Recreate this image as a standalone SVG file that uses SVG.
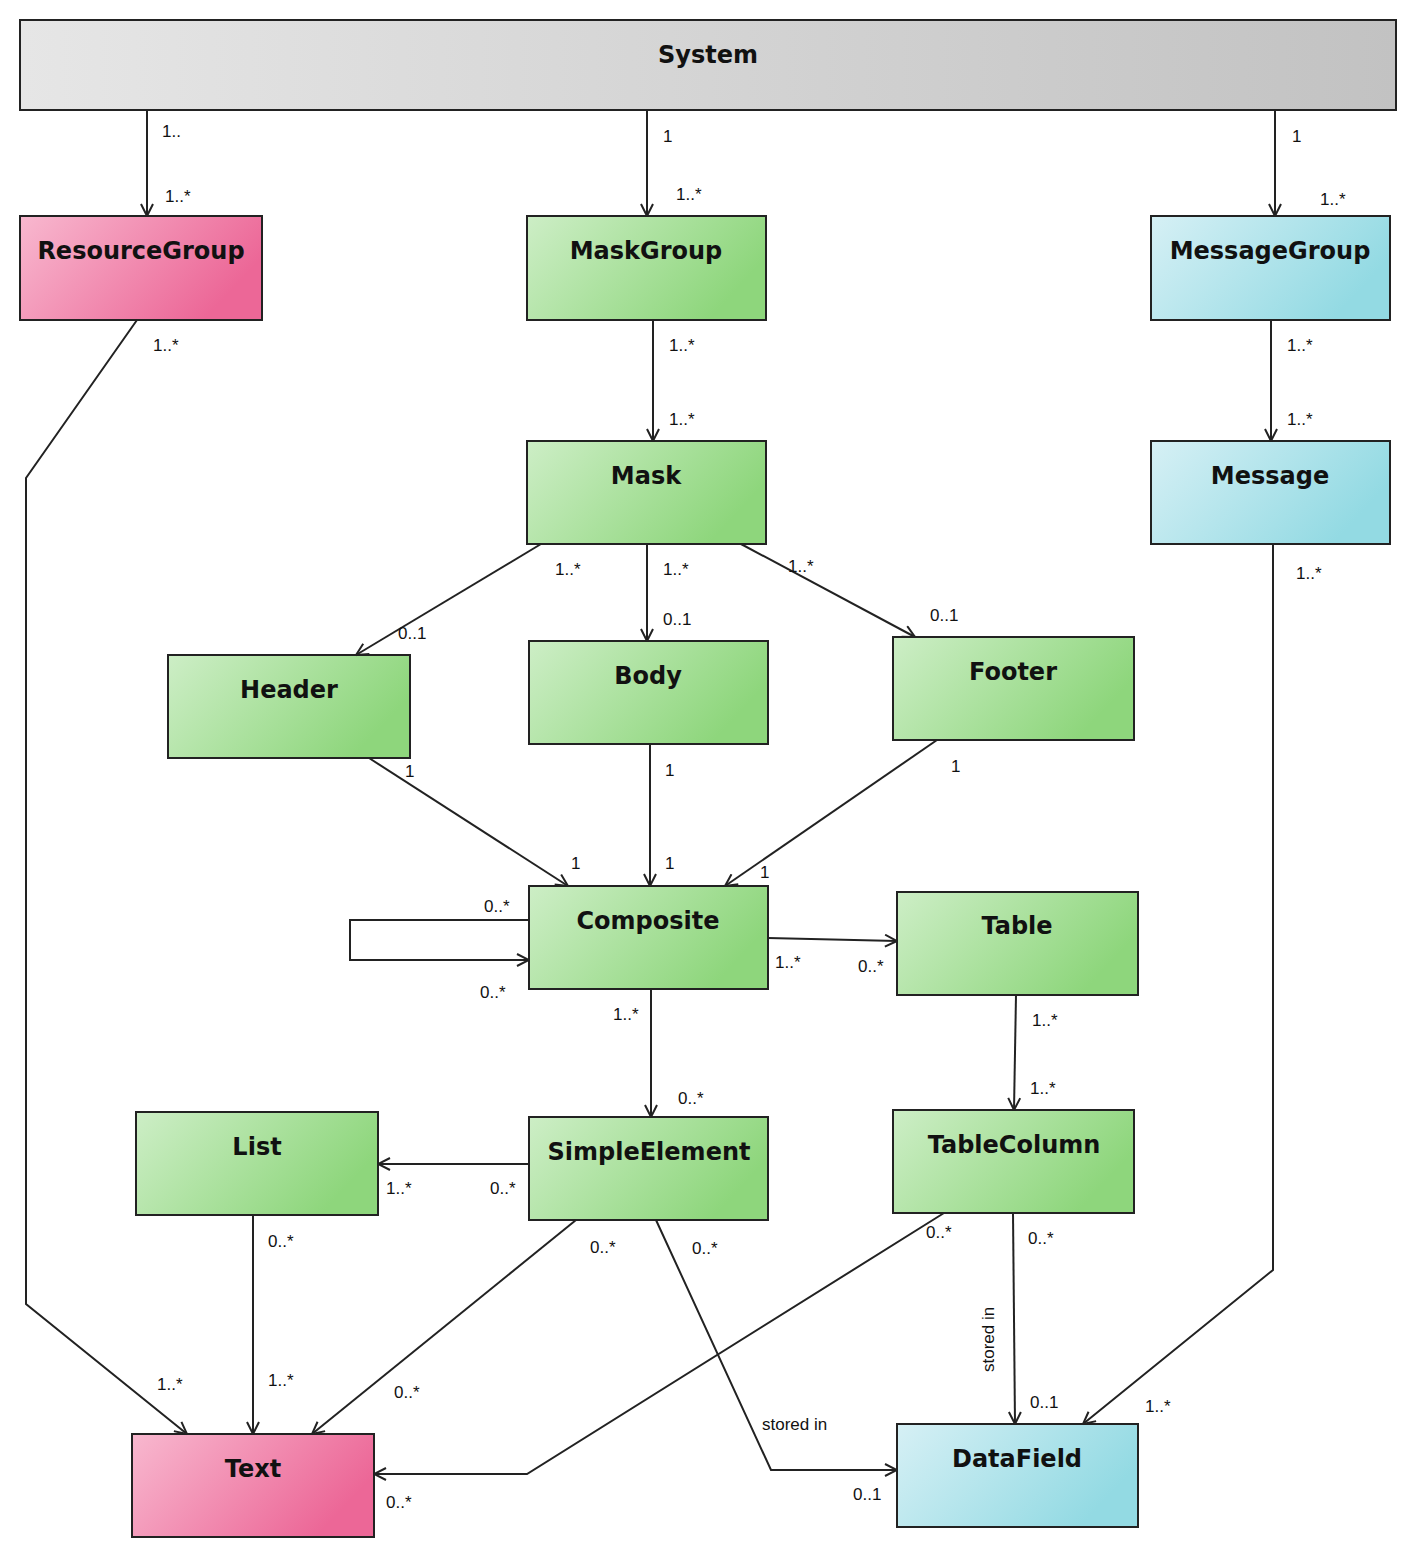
<svg xmlns="http://www.w3.org/2000/svg" width="1417" height="1558" viewBox="0 0 1417 1558">
<style>
.n{stroke:#222;stroke-width:2}
.t{font-family:"DejaVu Sans",sans-serif;font-weight:bold;font-size:24px;fill:#111;text-anchor:middle}
.l{font-family:"Liberation Sans",sans-serif;font-size:17px;fill:#111}
.c{fill:none;stroke:#222;stroke-width:2;marker-end:url(#a)}
</style>
<defs>
<linearGradient id="g" x1="0" y1="0" x2="1" y2="0.4"><stop offset="0" stop-color="#cdeec6"/><stop offset="1" stop-color="#8ed67c"/></linearGradient>
<linearGradient id="p" x1="0" y1="0" x2="1" y2="0.4"><stop offset="0" stop-color="#f8b8cf"/><stop offset="1" stop-color="#ec6797"/></linearGradient>
<linearGradient id="b" x1="0" y1="0" x2="1" y2="0.4"><stop offset="0" stop-color="#d6f0f5"/><stop offset="1" stop-color="#93dae3"/></linearGradient>
<linearGradient id="s" x1="0" y1="0" x2="1" y2="0"><stop offset="0" stop-color="#e6e6e6"/><stop offset="1" stop-color="#c2c2c2"/></linearGradient>
<marker id="a" markerWidth="14" markerHeight="14" refX="13" refY="7" orient="auto" markerUnits="userSpaceOnUse"><path d="M1,1 L13,7 L1,13" fill="none" stroke="#222" stroke-width="2"/></marker>
</defs>
<g id="System"><rect class="n" x="20" y="20" width="1376" height="90" fill="url(#s)"/><text class="t" x="708" y="63">System</text></g>
<g id="ResourceGroup"><rect class="n" x="20" y="216" width="242" height="104" fill="url(#p)"/><text class="t" x="141" y="259">ResourceGroup</text></g>
<g id="MaskGroup"><rect class="n" x="527" y="216" width="239" height="104" fill="url(#g)"/><text class="t" x="646" y="259">MaskGroup</text></g>
<g id="MessageGroup"><rect class="n" x="1151" y="216" width="239" height="104" fill="url(#b)"/><text class="t" x="1270" y="259">MessageGroup</text></g>
<g id="Mask"><rect class="n" x="527" y="441" width="239" height="103" fill="url(#g)"/><text class="t" x="646" y="484">Mask</text></g>
<g id="Message"><rect class="n" x="1151" y="441" width="239" height="103" fill="url(#b)"/><text class="t" x="1270" y="484">Message</text></g>
<g id="Header"><rect class="n" x="168" y="655" width="242" height="103" fill="url(#g)"/><text class="t" x="289" y="698">Header</text></g>
<g id="Body"><rect class="n" x="529" y="641" width="239" height="103" fill="url(#g)"/><text class="t" x="648" y="684">Body</text></g>
<g id="Footer"><rect class="n" x="893" y="637" width="241" height="103" fill="url(#g)"/><text class="t" x="1013" y="680">Footer</text></g>
<g id="Composite"><rect class="n" x="529" y="886" width="239" height="103" fill="url(#g)"/><text class="t" x="648" y="929">Composite</text></g>
<g id="Table"><rect class="n" x="897" y="892" width="241" height="103" fill="url(#g)"/><text class="t" x="1017" y="934">Table</text></g>
<g id="List"><rect class="n" x="136" y="1112" width="242" height="103" fill="url(#g)"/><text class="t" x="257" y="1155">List</text></g>
<g id="SimpleElement"><rect class="n" x="529" y="1117" width="239" height="103" fill="url(#g)"/><text class="t" x="649" y="1160">SimpleElement</text></g>
<g id="TableColumn"><rect class="n" x="893" y="1110" width="241" height="103" fill="url(#g)"/><text class="t" x="1014" y="1153">TableColumn</text></g>
<g id="Text"><rect class="n" x="132" y="1434" width="242" height="103" fill="url(#p)"/><text class="t" x="253" y="1477">Text</text></g>
<g id="DataField"><rect class="n" x="897" y="1424" width="241" height="103" fill="url(#b)"/><text class="t" x="1017" y="1467">DataField</text></g>
<g id="connectors">
<path class="c" d="M147,110 V216"/>
<path class="c" d="M647,110 V216"/>
<path class="c" d="M1275,110 V216"/>
<path class="c" d="M137,320 L26,478 V1304 L187,1434"/>
<path class="c" d="M653,320 V441"/>
<path class="c" d="M1271,320 V441"/>
<path class="c" d="M1273,544 V1270 L1083,1424"/>
<path class="c" d="M541,544 L356,655"/>
<path class="c" d="M647,544 V641"/>
<path class="c" d="M741,544 L915,637"/>
<path class="c" d="M369,758 L568,886"/>
<path class="c" d="M650,744 V886"/>
<path class="c" d="M937,740 L725,886"/>
<path class="c" d="M529,920 H350 V960 H529"/>
<path class="c" d="M768,938 L897,941"/>
<path class="c" d="M651,989 V1117"/>
<path class="c" d="M1016,995 L1014,1110"/>
<path class="c" d="M529,1164 H378"/>
<path class="c" d="M253,1215 V1434"/>
<path class="c" d="M576,1220 L312,1434"/>
<path class="c" d="M656,1220 L771,1470 H897"/>
<path class="c" d="M944,1213 L527,1474 H374"/>
<path class="c" d="M1013,1213 L1015,1424"/>
<g class="l">
<text x="162" y="137">1..</text><text x="165" y="202">1..*</text>
<text x="663" y="142">1</text><text x="676" y="200">1..*</text>
<text x="1292" y="142">1</text><text x="1320" y="205">1..*</text>
<text x="153" y="351">1..*</text><text x="157" y="1390">1..*</text>
<text x="669" y="351">1..*</text><text x="669" y="425">1..*</text>
<text x="1287" y="351">1..*</text><text x="1287" y="425">1..*</text>
<text x="1296" y="579">1..*</text><text x="1145" y="1412">1..*</text>
<text x="555" y="575">1..*</text><text x="398" y="639">0..1</text>
<text x="663" y="575">1..*</text><text x="663" y="625">0..1</text>
<text x="788" y="572">1..*</text><text x="930" y="621">0..1</text>
<text x="405" y="777">1</text><text x="571" y="869">1</text>
<text x="665" y="776">1</text><text x="665" y="869">1</text>
<text x="951" y="772">1</text><text x="760" y="878">1</text>
<text x="484" y="912">0..*</text><text x="480" y="998">0..*</text>
<text x="775" y="968">1..*</text><text x="858" y="972">0..*</text>
<text x="613" y="1020">1..*</text><text x="678" y="1104">0..*</text>
<text x="1032" y="1026">1..*</text><text x="1030" y="1094">1..*</text>
<text x="490" y="1194">0..*</text><text x="386" y="1194">1..*</text>
<text x="268" y="1247">0..*</text><text x="268" y="1386">1..*</text>
<text x="590" y="1253">0..*</text><text x="394" y="1398">0..*</text>
<text x="692" y="1254">0..*</text><text x="762" y="1430">stored in</text><text x="853" y="1500">0..1</text>
<text x="926" y="1238">0..*</text><text x="386" y="1508">0..*</text>
<text x="1028" y="1244">0..*</text><text x="1030" y="1408">0..1</text>
<text transform="translate(994,1372) rotate(-90)">stored in</text>
</g>
</g>
</svg>
